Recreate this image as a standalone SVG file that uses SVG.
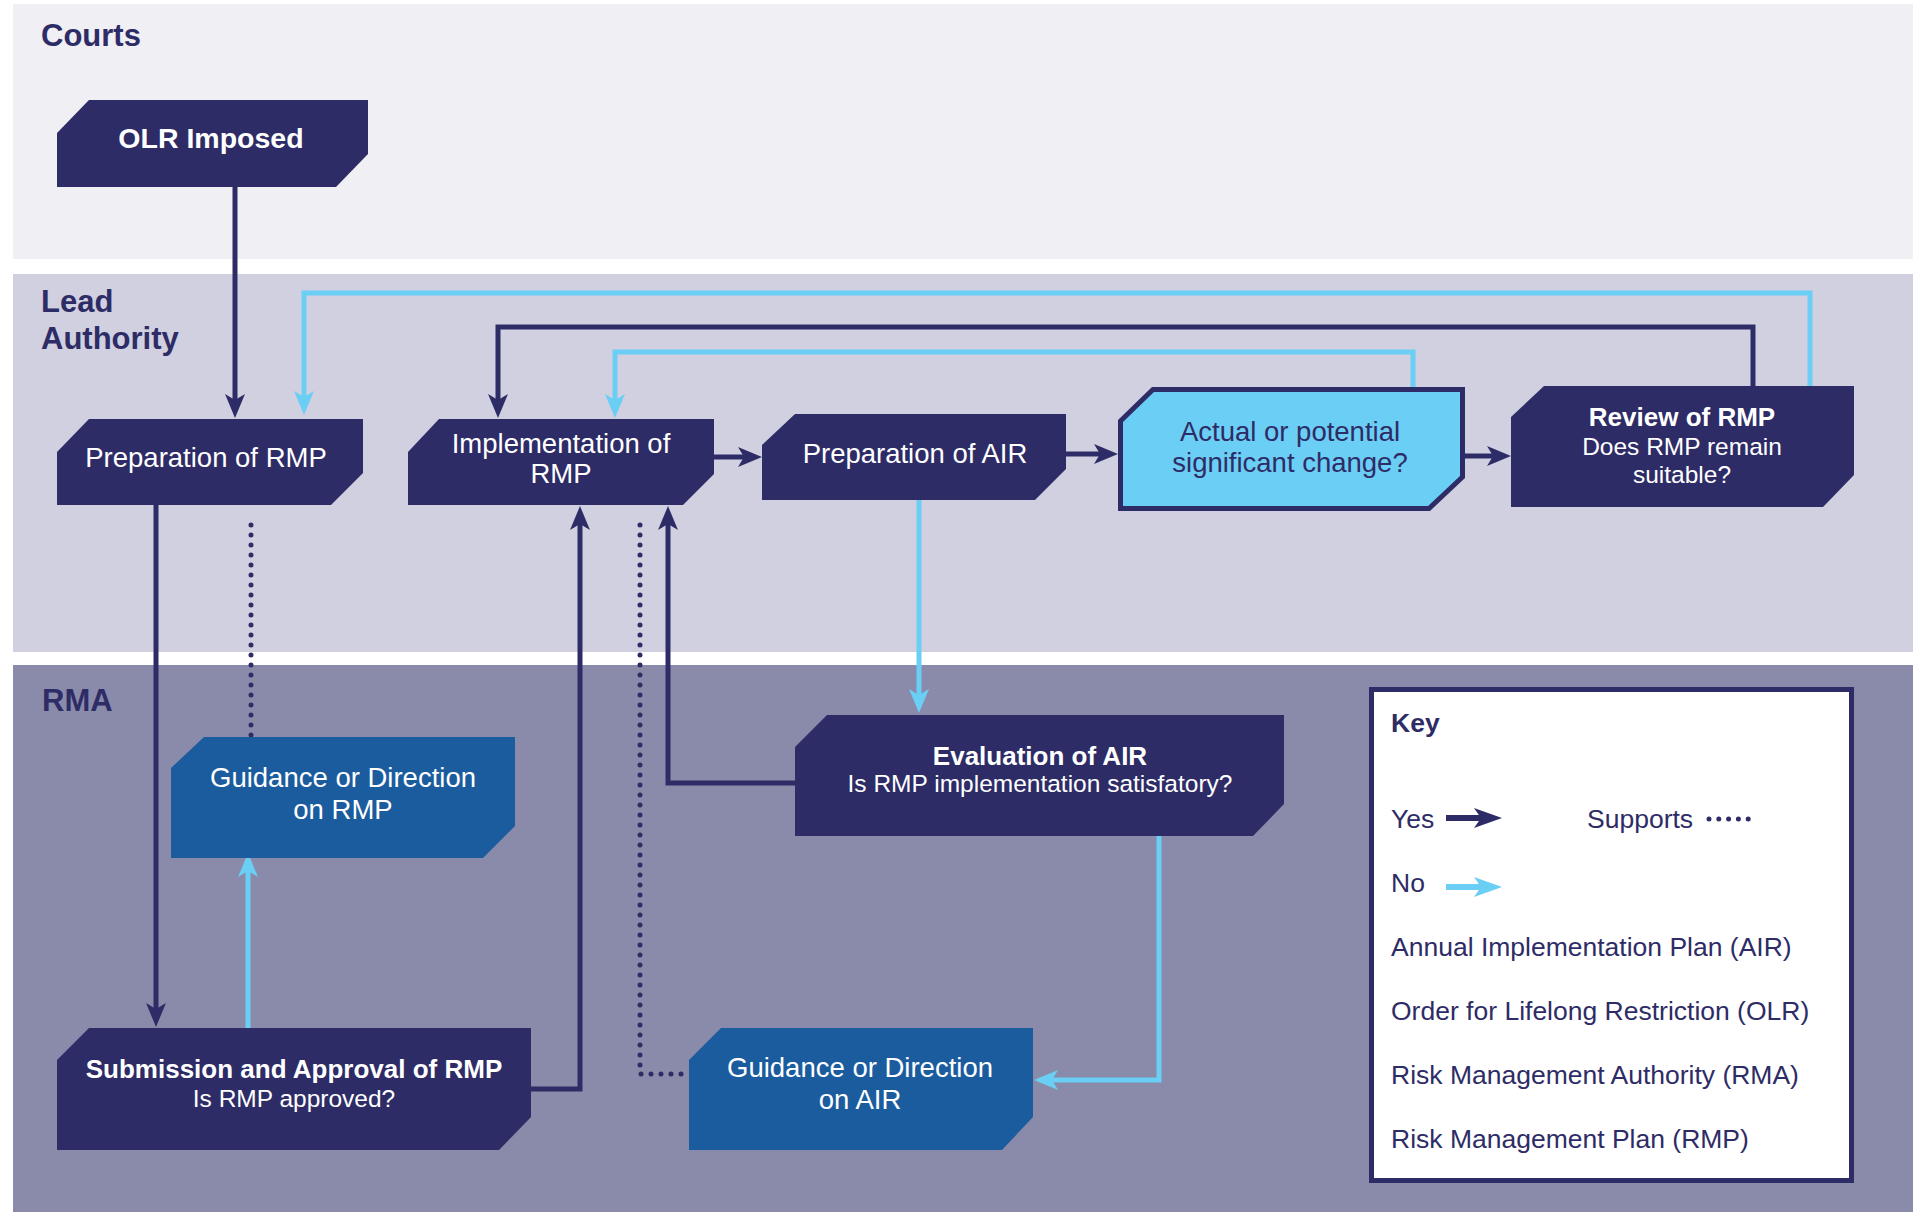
<svg xmlns="http://www.w3.org/2000/svg" width="1917" height="1212" viewBox="0 0 1917 1212">
<style>
.band-label{font-family:"Liberation Sans",Arial,sans-serif;font-weight:bold;font-size:31px;fill:#2E2C66}
.navy{fill:#2E2C66}
.lblue{fill:#6BCEF5}
.gblue{fill:#1B5C9E}
.t{font-family:"Liberation Sans",Arial,sans-serif;fill:#FFFFFF;text-anchor:middle}
.tb{font-weight:bold;font-size:26px}
.tm{font-size:27.5px}
.ts{font-size:24.5px}
.dark{fill:#2E2C66}
.ln{fill:none;stroke-width:5}
.yes{stroke:#2E2C66;marker-end:url(#ahYes)}
.no{stroke:#6BCEF5;marker-end:url(#ahNo)}
.dot{fill:none;stroke:#2E2C66;stroke-width:5;stroke-linecap:round;stroke-dasharray:0 10}
.key{font-family:"Liberation Sans",Arial,sans-serif;font-size:26.5px;fill:#2E2C66}
</style>
<defs>
<marker id="ahYes" markerUnits="userSpaceOnUse" viewBox="0 0 24 20" markerWidth="24" markerHeight="20" refX="14" refY="10" orient="auto">
<path d="M0,0 L24,10 L0,20 L6,10 Z" fill="#2E2C66"/>
</marker>
<marker id="ahNo" markerUnits="userSpaceOnUse" viewBox="0 0 24 20" markerWidth="24" markerHeight="20" refX="14" refY="10" orient="auto">
<path d="M0,0 L24,10 L0,20 L6,10 Z" fill="#6BCEF5"/>
</marker>
</defs>
<rect x="0" y="0" width="1917" height="1212" fill="#FFFFFF"/>
<g id="bands">
<rect x="13" y="4" width="1900" height="255" fill="#EFEFF4"/>
<rect x="13" y="274" width="1900" height="378" fill="#D0D0E0"/>
<rect x="13" y="665" width="1900" height="547" fill="#8A8BAA"/>
<text class="band-label" x="41" y="46">Courts</text>
<text class="band-label" x="41" y="312">Lead</text>
<text class="band-label" x="41" y="349">Authority</text>
<text class="band-label" x="42" y="711">RMA</text>
</g>
<g id="connectors">
<path class="ln yes" d="M235,187 V408"/>
<path class="ln yes" d="M1753,386 V327 H498 V408"/>
<path class="ln yes" d="M714,457 H752"/>
<path class="ln yes" d="M1066,454 H1108"/>
<path class="ln yes" d="M1465,456 H1501"/>
<path class="ln yes" d="M156,505 V1017"/>
<path class="ln yes" d="M531,1089 H580 V516"/>
<path class="ln yes" d="M795,783 H668 V516"/>
<path class="ln no" d="M1810,386 V293 H304 V405"/>
<path class="ln no" d="M1413,388 V352 H615 V408"/>
<path class="ln no" d="M919,500 V703"/>
<path class="ln no" d="M248,1028 V863"/>
<path class="ln no" d="M1159,836 V1080 H1044"/>
<path class="dot" d="M251,525 V737"/>
<path class="dot" d="M640,525 V1074 H689"/>
</g>
<g id="olr-imposed">
<path class="navy" d="M57,133 L89,100 H368 V154 L336,187 H57 Z"/>
<text class="t" x="211" y="148" font-weight="bold" font-size="28.5">OLR Imposed</text>
</g>
<g id="prep-rmp">
<path class="navy" d="M57,452 L89,419 H363 V473 L331,505 H57 Z"/>
<text class="t tm" x="206" y="467">Preparation of RMP</text>
</g>
<g id="impl-rmp">
<path class="navy" d="M408,452 L439,419 H714 V474 L683,505 H408 Z"/>
<text class="t tm" x="561" y="453">Implementation of</text>
<text class="t tm" x="561" y="483">RMP</text>
</g>
<g id="prep-air">
<path class="navy" d="M762,445 L795,414 H1066 V469 L1035,500 H762 Z"/>
<text class="t tm" x="915" y="463">Preparation of AIR</text>
</g>
<g id="actual-change">
<path d="M1120.5,421 L1153,389.5 H1462.5 V477 L1429,508.5 H1120.5 Z" fill="#6BCEF5" stroke="#2E2C66" stroke-width="5"/>
<text class="t tm" x="1290" y="441" style="fill:#2E2C66">Actual or potential</text>
<text class="t tm" x="1290" y="472" style="fill:#2E2C66">significant change?</text>
</g>
<g id="review-rmp">
<path class="navy" d="M1511,417 L1544,386 H1854 V475 L1823,507 H1511 Z"/>
<text class="t tb" x="1682" y="426">Review of RMP</text>
<text class="t ts" x="1682" y="455">Does RMP remain</text>
<text class="t ts" x="1682" y="483">suitable?</text>
</g>
<g id="guidance-rmp">
<path class="gblue" d="M171,768 L204,737 H515 V826 L483,858 H171 Z"/>
<text class="t tm" x="343" y="787">Guidance or Direction</text>
<text class="t tm" x="343" y="819">on RMP</text>
</g>
<g id="evaluation-air">
<path class="navy" d="M795,747 L827,715 H1284 V804 L1253,836 H795 Z"/>
<text class="t tb" x="1040" y="765">Evaluation of AIR</text>
<text class="t ts" x="1040" y="792">Is RMP implementation satisfatory?</text>
</g>
<g id="submission-rmp">
<path class="navy" d="M57,1060 L89,1028 H531 V1117 L499,1150 H57 Z"/>
<text class="t tb" x="294" y="1078">Submission and Approval of RMP</text>
<text class="t ts" x="294" y="1107">Is RMP approved?</text>
</g>
<g id="guidance-air">
<path class="gblue" d="M689,1060 L721,1028 H1033 V1117 L1002,1150 H689 Z"/>
<text class="t tm" x="860" y="1077">Guidance or Direction</text>
<text class="t tm" x="860" y="1109">on AIR</text>
</g>
<g id="key">
<rect x="1371.5" y="689.5" width="480" height="491" fill="#FFFFFF" stroke="#2E2C66" stroke-width="5"/>
<text class="key" x="1391" y="732" font-weight="bold" font-size="28">Key</text>
<text class="key" x="1391" y="828">Yes</text>
<path d="M1446,818 H1484" stroke="#2E2C66" stroke-width="6" fill="none"/>
<path d="M1474,808 L1502,818 L1474,828 L1481,818 Z" fill="#2E2C66"/>
<text class="key" x="1587" y="828">Supports</text>
<path class="dot" d="M1709,819 H1749" style="stroke-dasharray:0 9.8"/>
<text class="key" x="1391" y="892">No</text>
<path d="M1446,887 H1484" stroke="#6BCEF5" stroke-width="6" fill="none"/>
<path d="M1474,877 L1502,887 L1474,897 L1481,887 Z" fill="#6BCEF5"/>
<text class="key" x="1391" y="956">Annual Implementation Plan (AIR)</text>
<text class="key" x="1391" y="1020">Order for Lifelong Restriction (OLR)</text>
<text class="key" x="1391" y="1084">Risk Management Authority (RMA)</text>
<text class="key" x="1391" y="1148">Risk Management Plan (RMP)</text>
</g>
</svg>
